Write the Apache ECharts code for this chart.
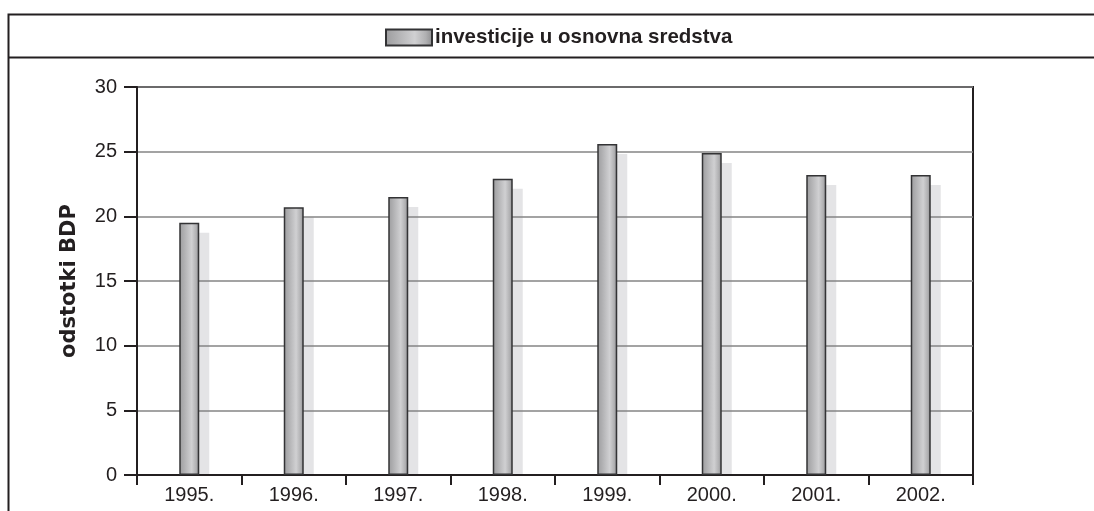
<!DOCTYPE html>
<html>
<head>
<meta charset="utf-8">
<script src="https://cdn.jsdelivr.net/npm/echarts@6/dist/echarts.min.js"></script>
<style>
  html, body { margin: 0; padding: 0; background: #fff; }
  #chart { width: 1094px; height: 511px; }
</style>
</head>
<body>
<div id="chart"></div>
<script>
// data
const years = ['1995.', '1996.', '1997.', '1998.', '1999.', '2000.', '2001.', '2002.']
const investicije = [19.5, 20.7, 21.5, 22.9, 25.6, 24.9, 23.2, 23.2]
const seriesName = 'investicije u osnovna sredstva'
const axisName = 'odstotki BDP'

const ink = '#231f20'
const font = '"Liberation Sans", Arial, sans-serif'

const chart = echarts.init(document.getElementById('chart'))

const barFill = new echarts.graphic.LinearGradient(0, 0, 1, 0, [
  { offset: 0, color: '#9c9c9e' },
  { offset: 0.2, color: '#acacae' },
  { offset: 0.62, color: '#d0d0d2' },
  { offset: 0.85, color: '#b0b0b2' },
  { offset: 1, color: '#8c8c8e' }
])

const option = {
  animation: false,
  backgroundColor: '#fff',
  textStyle: { fontFamily: font },
  graphic: [
    {
      type: 'polyline',
      shape: { points: [[8.5, 511], [8.5, 14.5], [1094, 14.5]] },
      style: { stroke: ink, lineWidth: 2, fill: null }
    },
    {
      type: 'line',
      shape: { x1: 8.5, y1: 57.5, x2: 1094, y2: 57.5 },
      style: { stroke: ink, lineWidth: 2 }
    }
  ],
  legend: {
    data: [seriesName],
    left: 385,
    top: 27,
    padding: 0,
    itemWidth: 46,
    itemHeight: 16,
    itemGap: 4,
    icon: 'rect',
    textStyle: { fontFamily: font, fontSize: 20.5, fontWeight: 'bold', color: ink, padding: [0, 0, 0, -2] }
  },
  grid: [
    { left: 137, right: 121, top: 87, bottom: 36, show: true, borderColor: ink, borderWidth: 2, containLabel: false },
    // shadow grid: shifted 10px right and 10px down, clipped at the x axis
    { left: 147, right: 111, top: 97, bottom: 36, show: false, containLabel: false }
  ],
  xAxis: [
    {
      type: 'category',
      gridIndex: 0,
      data: years,
      axisLine: { lineStyle: { color: ink, width: 2 } },
      axisTick: { show: true, length: 10, alignWithLabel: false, lineStyle: { color: ink, width: 2 } },
      axisLabel: { color: ink, fontSize: 20, margin: 10, fontFamily: font }
    },
    {
      type: 'category',
      gridIndex: 1,
      data: years,
      show: false
    }
  ],
  yAxis: [
    {
      type: 'value',
      gridIndex: 0,
      min: 0,
      max: 30,
      interval: 5,
      name: axisName,
      nameLocation: 'middle',
      nameGap: 57,
      nameTextStyle: { fontFamily: '"DejaVu Sans", sans-serif', fontSize: 21, fontWeight: 'bold', color: ink },
      axisLine: { show: true, lineStyle: { color: ink, width: 2 } },
      axisTick: { show: true, length: 13, lineStyle: { color: ink, width: 2 } },
      axisLabel: { color: ink, fontSize: 20, margin: 20, fontFamily: font },
      splitLine: { show: true, lineStyle: { color: '#858585', width: 1.6 } }
    },
    {
      type: 'value',
      gridIndex: 1,
      min: 0.773,
      max: 30,
      show: false,
      splitLine: { show: false }
    }
  ],
  series: [
    {
      name: 'sjena',
      type: 'bar',
      xAxisIndex: 1,
      yAxisIndex: 1,
      data: investicije,
      barWidth: 20,
      clip: true,
      z: -1,
      silent: true,
      itemStyle: { color: '#e4e4e6' }
    },
    {
      name: seriesName,
      type: 'bar',
      xAxisIndex: 0,
      yAxisIndex: 0,
      data: investicije,
      barWidth: 20,
      itemStyle: { color: barFill, borderColor: '#333335', borderWidth: 1.5 }
    }
  ]
}

chart.setOption(option)
</script>
</body>
</html>
